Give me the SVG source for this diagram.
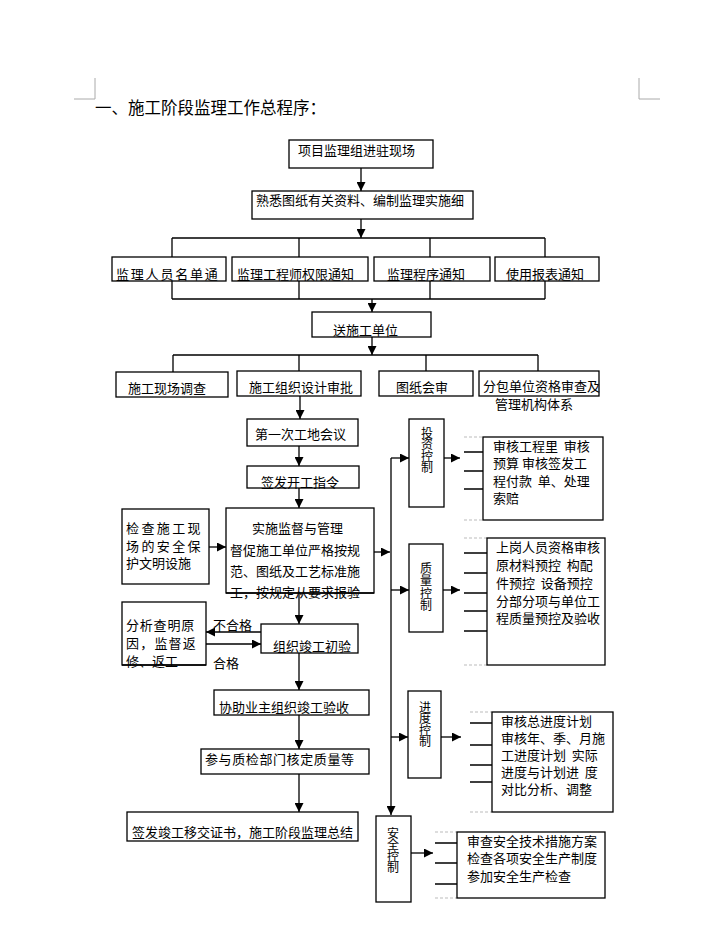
<svg xmlns="http://www.w3.org/2000/svg" width="716" height="940" viewBox="0 0 716 940">
<defs>
<marker id="ah" viewBox="0 0 10 10" refX="10" refY="5" markerWidth="10" markerHeight="9" markerUnits="userSpaceOnUse" orient="auto"><path d="M0,0 L10,5 L0,10 z" fill="#000"/></marker>
<style>
.b{fill:#fff;stroke:#000;stroke-width:1.3}
.l{stroke:#000;stroke-width:1.3;fill:none}
.a{stroke:#000;stroke-width:1.3;fill:none;marker-end:url(#ah)}
.d{stroke:#bbb;stroke-width:1;stroke-dasharray:3,2}
.c{stroke:#aaa;stroke-width:1;fill:none}
text{font-family:"Noto Sans CJK SC","Noto Sans CJK JP",sans-serif;font-size:13px;fill:#000;white-space:pre}
.v{writing-mode:vertical-rl;text-orientation:upright;font-size:12px;letter-spacing:-0.5px}
</style>
</defs>
<rect width="716" height="940" fill="#fff"/>
<path class="c" d="M95,78 V99 H74"/>
<path class="c" d="M639,78 V99 H660"/>
<text x="95" y="114" style="font-size:16.5px">一、施工阶段监理工作总程序：</text>

<g id="connectors">
<path class="a" d="M361,168 V191"/>
<path class="a" d="M361,219 V238"/>
<path class="l" d="M172,238 H545 M172,238 V257 M299,238 V257 M430,238 V257 M545,238 V257"/>
<path class="l" d="M172,281 V299 M299,281 V299 M430,281 V299 M545,281 V299 M172,299 H545"/>
<path class="a" d="M372,299 V312"/>
<path class="a" d="M372,337 V355"/>
<path class="l" d="M173,355 H538 M173,355 V372 M299,355 V371 M426,355 V371 M538,355 V371"/>
<path class="a" d="M300,396 V419"/>
<path class="a" d="M299,446 V466"/>
<path class="a" d="M299,488 V508"/>
<path class="a" d="M209,547 H226"/>
<path class="a" d="M374,552 H390"/>
<path class="a" d="M391,458 V815"/>
<path class="a" d="M391,458 H409"/>
<path class="a" d="M444,458 H460"/>
<path class="l" d="M464,452 H483 M464,471 H483 M464,489 H483"/>
<path class="d" d="M464,437 H483 M464,520 H483"/>
<path class="a" d="M391,590 H409"/>
<path class="a" d="M443,590 H460"/>
<path class="l" d="M464,553 H487 M464,573 H487 M464,593 H487 M464,611 H487 M464,631 H487"/>
<path class="d" d="M464,538 H487 M464,665 H487"/>
<path class="a" d="M391,737 H408"/>
<path class="a" d="M441,737 H461"/>
<path class="l" d="M470,723 H492 M470,745 H492 M470,765 H492 M470,782 H492"/>
<path class="d" d="M470,712 H492 M470,812 H492"/>
<path class="a" d="M411,853 H433"/>
<path class="l" d="M435,843 H457 M435,863 H457 M435,884 H457"/>
<path class="d" d="M435,832 H457 M435,898 H457"/>
<path class="a" d="M299,593 V624"/>
<path class="a" d="M261,632 H206"/>
<path class="a" d="M206,644 H261"/>
<path class="a" d="M299,653 V690"/>
<path class="a" d="M299,715 V749"/>
<path class="a" d="M299,774 V812"/>
</g>

<g id="n1"><rect class="b" x="289" y="140" width="144" height="28"/><text x="298" y="155">项目监理组进驻现场</text></g>
<g id="n2"><rect class="b" x="252" y="191" width="221" height="28"/><text x="256" y="205">熟悉图纸有关资料、编制监理实施细</text></g>

<g id="n3"><rect class="b" x="112" y="257" width="114" height="24"/><text x="116" y="279" style="letter-spacing:1.8px">监理人员名单通</text></g>
<g id="n4"><rect class="b" x="232" y="257" width="136" height="24"/><text x="237" y="279">监理工程师权限通知</text></g>
<g id="n5"><rect class="b" x="374" y="257" width="116" height="24"/><text x="387" y="279">监理程序通知</text></g>
<g id="n6"><rect class="b" x="495" y="257" width="104" height="24"/><text x="506" y="279">使用报表通知</text></g>

<g id="n7"><rect class="b" x="312" y="312" width="119" height="25"/><text x="333" y="335">送施工单位</text></g>

<g id="n8"><rect class="b" x="116" y="372" width="112" height="25"/><text x="128" y="393">施工现场调查</text></g>
<g id="n9"><rect class="b" x="237" y="371" width="124" height="25"/><text x="249" y="392">施工组织设计审批</text></g>
<g id="n10"><rect class="b" x="379" y="371" width="94" height="25"/><text x="396" y="392">图纸会审</text></g>
<g id="n11"><rect class="b" x="479" y="371" width="120" height="25"/><text x="483" y="391">分包单位资格审查及<tspan x="495" y="409">管理机构体系</tspan></text></g>

<g id="n12"><rect class="b" x="247" y="419" width="111" height="27"/><text x="255" y="439">第一次工地会议</text></g>
<g id="n13"><rect class="b" x="247" y="466" width="112" height="22"/><text x="261" y="487">签发开工指令</text></g>

<g id="n14"><rect class="b" x="226" y="508" width="148" height="85"/>
<text x="252" y="533">实施监督与管理<tspan x="230" y="555">督促施工单位严格按规</tspan><tspan x="230" y="576">范、图纸及工艺标准施</tspan><tspan x="230" y="597">工，按规定从要求报验</tspan></text>
<path class="l" d="M226,593 H374"/></g>

<g id="n15"><rect class="b" x="122" y="509" width="87" height="75"/>
<text x="126" y="533"><tspan style="letter-spacing:2.4px">检查施工现</tspan><tspan x="126" y="551" style="letter-spacing:2.4px">场的安全保</tspan><tspan x="126" y="568">护文明设施</tspan></text></g>

<g id="n16"><rect class="b" x="122" y="602" width="84" height="63"/>
<text x="126" y="630"><tspan style="letter-spacing:0.8px">分析查明原</tspan><tspan x="126" y="648" style="letter-spacing:1.2px">因，监督返</tspan><tspan x="126" y="666">修、返工</tspan></text>
<path class="l" d="M122,665 H206"/></g>

<g id="lbl"><text x="213" y="630">不合格</text><text x="213" y="668">合格</text></g>

<g id="n17"><rect class="b" x="261" y="624" width="97" height="29"/><text x="273" y="651">组织竣工初验</text></g>
<g id="n18"><rect class="b" x="214" y="690" width="155" height="25"/><text x="219" y="712">协助业主组织竣工验收</text></g>
<g id="n19"><rect class="b" x="201" y="749" width="168" height="25"/><text x="205" y="764" style="letter-spacing:0.6px">参与质检部门核定质量等</text></g>
<g id="n20"><rect class="b" x="127" y="812" width="231" height="29"/><text x="132" y="837">签发竣工移交证书，施工阶段监理总结</text></g>

<g id="n21"><rect class="b" x="409" y="419" width="35" height="88"/>
<text class="v" x="427" y="427">投资控制</text></g>
<g id="n22"><rect class="b" x="483" y="437" width="120" height="83"/>
<text x="493" y="451">审核工程里  审核<tspan x="493" y="468">预算 审核签发工</tspan><tspan x="493" y="486">程付款  单、处理</tspan><tspan x="493" y="503">索赔</tspan></text></g>

<g id="n23"><rect class="b" x="409" y="544" width="34" height="88"/>
<text class="v" x="426" y="562" style="letter-spacing:0.5px">质量控制</text></g>
<g id="n24"><rect class="b" x="487" y="538" width="118" height="127"/>
<text x="496" y="552">上岗人员资格审核<tspan x="496" y="570">原材料预控  构配</tspan><tspan x="496" y="588">件预控  设备预控</tspan><tspan x="496" y="606">分部分项与单位工</tspan><tspan x="496" y="623">程质量预控及验收</tspan></text></g>

<g id="n25"><rect class="b" x="408" y="691" width="33" height="87"/>
<text class="v" x="425" y="701">进度控制</text></g>
<g id="n26"><rect class="b" x="492" y="712" width="121" height="100"/>
<text x="501" y="726">审核总进度计划<tspan x="501" y="743">审核年、季、月施</tspan><tspan x="501" y="760">工进度计划  实际</tspan><tspan x="501" y="777">进度与计划进  度</tspan><tspan x="501" y="794">对比分析、调整</tspan></text></g>

<g id="n27"><rect class="b" x="376" y="816" width="35" height="86"/>
<text class="v" x="393" y="827">安全控制</text></g>
<g id="n28"><rect class="b" x="457" y="832" width="148" height="66"/>
<text x="467" y="846">审查安全技术措施方案<tspan x="467" y="863">检查各项安全生产制度</tspan><tspan x="467" y="881">参加安全生产检查</tspan></text></g>
</svg>
